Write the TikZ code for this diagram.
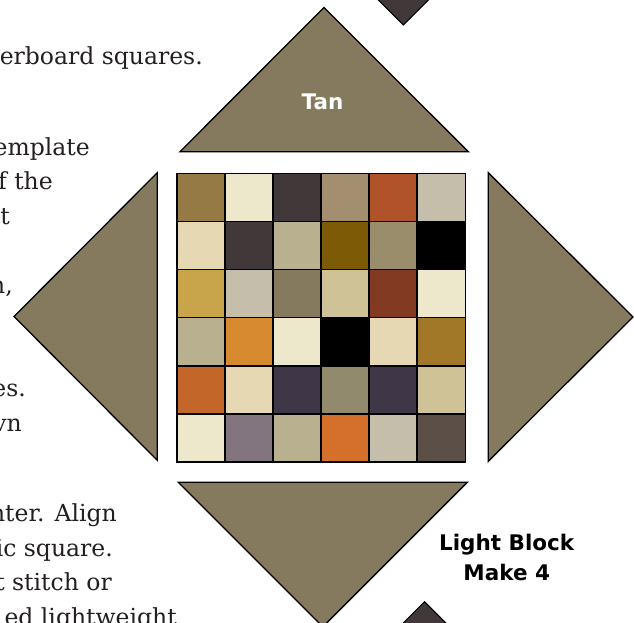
\documentclass[tikz,border=0pt]{standalone}
\usepackage{fontspec}
\setmainfont{DejaVu Serif}
\newfontfamily\labelfont{DejaVu Sans}
\usetikzlibrary{positioning}

% fabric colours
\definecolor{tanfill}{HTML}{857A5E}
\definecolor{darkfab}{HTML}{41383A}
\definecolor{bodytext}{HTML}{231F20}

\begin{document}
\begin{tikzpicture}[
        x=1pt, y=-1pt,
        tri/.style={fill=tanfill, draw=black, line width=1.3pt, line join=miter},
        corner/.style={fill=darkfab, draw=black, line width=1pt},
        cell/.style={draw=black, line width=1.6pt, minimum size=48.1pt, inner sep=0pt},
        para/.style={anchor=base east, inner sep=0pt, text=bodytext, font=\fontsize{23.5}{28}\selectfont},
        lbl/.style={anchor=base, inner sep=0pt, font=\labelfont\bfseries\fontsize{21.5}{26}\selectfont}
    ]
    \useasboundingbox (0,0) rectangle (634,623);
    \clip (0,0) rectangle (634,623);

    % Body text (cut at the left edge)
    \node[para] (t1) at (203,65) {erboard squares.};
    \node[para] (t2) at (90,155) {emplate};
    \node[para] (t3) at (53,189.5) {f the};
    \node[para] (t4) at (10,224) {t};
    \node[para] (t5) at (13,293) {n,};
    \node[para] (t6) at (26,396.5) {es.};
    \node[para] (t7) at (22,431) {vn};
    \node[para] (t8) at (117,521.5) {nter. Align};
    \node[para] (t9) at (113,556) {ic square.};
    \node[para] (t10) at (112,590.5) {t stitch or};
    \node[para] (t11) at (177,625) {ed lightweight};

    % Dark corner squares
    \draw[corner] (403.3,-35) -- (433.3,-5) -- (403.3,25) -- (373.3,-5) -- cycle;
    \draw[corner] (424.5,601.7) -- (454.5,631.7) -- (424.5,661.7) -- (394.5,631.7) -- cycle;

    % Tan triangles
    \draw[tri] (180,151.7) -- (468.3,151.7) -- (324,7.5) -- cycle;
    \draw[tri] (157.3,172.7) -- (157.3,460.3) -- (14,316.5) -- cycle;
    \draw[tri] (488.3,172.7) -- (488.3,461.3) -- (633,317) -- cycle;
    \draw[tri] (178.3,482.3) -- (467.3,482.3) -- (322.8,626.8) -- cycle;

    % Checkerboard, row by row
    \foreach \colours [count=\r from 0] in {
            {957A45,EDE7CC,41383A,A38F6F,B0532B,C4BEAB},
            {E6D8B2,41383A,B8B08E,7D5A06,9A8D6C,000000},
            {C8A44B,C4BEAB,857A5E,CFC296,833A22,EDE7CC},
            {B8B08E,D78A30,EDE7CC,000000,E6D8B2,A07828},
            {C3662A,E6D8B2,3F3748,918A6D,3F3748,CFC296},
            {EDE7CC,827580,B8B08E,D56F2C,C4BEAB,5C4F47}} {
        \foreach \hex [count=\c from 0] in \colours {
            \definecolor{cellfill}{HTML}{\hex}
            \node[cell, fill=cellfill] (c\r\c) at (200.75+48.1*\c, 197.35+48.1*\r) {};
        }
    }

    % Labels
    \node[lbl, text=white] (tan) at (322.5,109.3) {Tan};
    \node[lbl, text=black] (light) at (506.7,550.7) {Light Block};
    \node[lbl, text=black] (make) at ([yshift=-29.3pt]light.base) {Make 4};

\end{tikzpicture}
\end{document}
